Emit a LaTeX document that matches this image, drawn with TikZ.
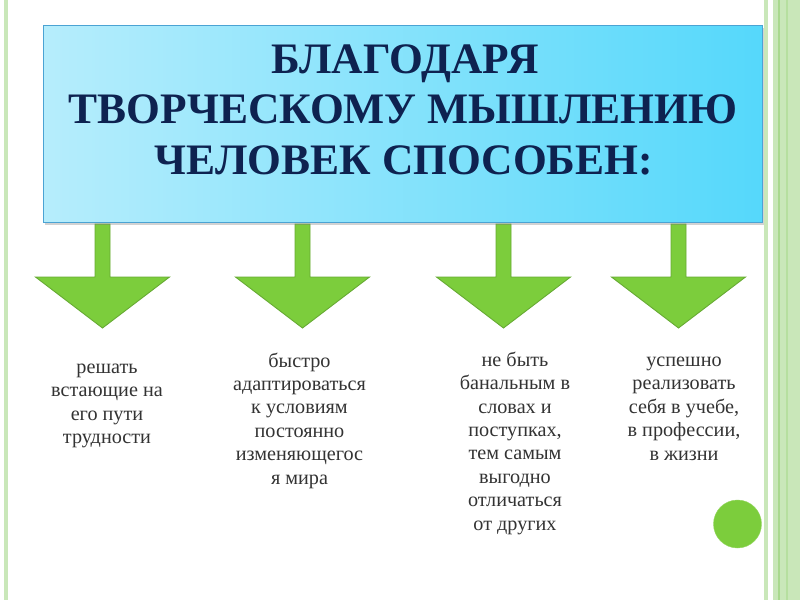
\documentclass[tikz,border=0pt]{standalone}
\usepackage{fontspec}
\setmainfont{Liberation Serif}
\usetikzlibrary{shadows}
\definecolor{frameA}{HTML}{C9E7B9}
\definecolor{frameB}{HTML}{A9D98E}
\definecolor{boxL}{HTML}{B6EDFC}
\definecolor{boxR}{HTML}{55D8FB}
\definecolor{boxEdge}{HTML}{4BA3D3}
\definecolor{navy}{HTML}{0E2250}
\definecolor{arrFill}{HTML}{7CCD3C}
\definecolor{arrEdge}{HTML}{66AA33}
\definecolor{bodyText}{HTML}{333333}
\tikzset{
  headbox/.style={draw=boxEdge, line width=0.8pt, left color=boxL, right color=boxR,
    drop shadow={shadow xshift=1.5pt, shadow yshift=-2.5pt, opacity=0.35}},
  titletext/.style={font=\fontsize{43.5}{50}\selectfont\bfseries, text=navy, inner sep=0pt, anchor=base},
  bodytxt/.style={font=\fontsize{20.2}{23.4}\selectfont, text=bodyText, align=center, inner sep=0pt, anchor=base},
  arrowshape/.style={fill=arrFill, draw=arrEdge, line width=0.9pt, line join=miter},
  bigarrow/.pic={\path[arrowshape] (-7.5,0) -- (-7.5,53) -- (-67,53) -- (0,104) -- (67,53) -- (7.5,53) -- (7.5,0) -- cycle;}
}
\begin{document}
\begin{tikzpicture}[x=1pt,y=-1pt]
\useasboundingbox (0,0) rectangle (800,600);
\fill[white] (0,0) rectangle (800,600);
% frame lines
\fill[frameA] (4,0) rectangle (8,600);
\fill[frameA] (764,0) rectangle (767.5,600);
\fill[frameA] (773,0) rectangle (800,600);
\fill[frameB] (777.5,0) rectangle (780,600);
\fill[frameB!60!frameA] (786,0) rectangle (788,600);
% arrows (behind box)
\pic at (102.5,224) {bigarrow};
\pic at (302.5,224) {bigarrow};
\pic at (503.5,224) {bigarrow};
\pic at (678.5,224) {bigarrow};
% header box
\node[headbox, minimum width=719pt, minimum height=197pt, inner sep=0pt] (head) at (402.5,123.5) {};
\node[titletext] (title1) at (405,73) {БЛАГОДАРЯ};
\node[titletext] (title2) at (403,123) {ТВОРЧЕСКОМУ МЫШЛЕНИЮ};
\node[titletext] (title3) at (404,174) {ЧЕЛОВЕК СПОСОБЕН:};
% texts (anchored at the baseline of the last line)
\node[bodytxt] (t1) at (107,443.5) {решать\\встающие на\\его пути\\трудности};
\node[bodytxt] (t2) at (299.5,484) {быстро\\адаптироваться\\к условиям\\постоянно\\изменяющегос\\я мира};
\node[bodytxt] (t3) at (515,530) {не быть\\банальным в\\словах и\\поступках,\\тем самым\\выгодно\\отличаться\\от других};
\node[bodytxt] (t4) at (684,460) {успешно\\реализовать\\себя в учебе,\\в профессии,\\в жизни};
% dot
\node[circle, fill=arrFill, draw=arrFill!80!white, minimum size=48pt, inner sep=0pt] (dot) at (737.5,524) {};
\end{tikzpicture}
\end{document}
